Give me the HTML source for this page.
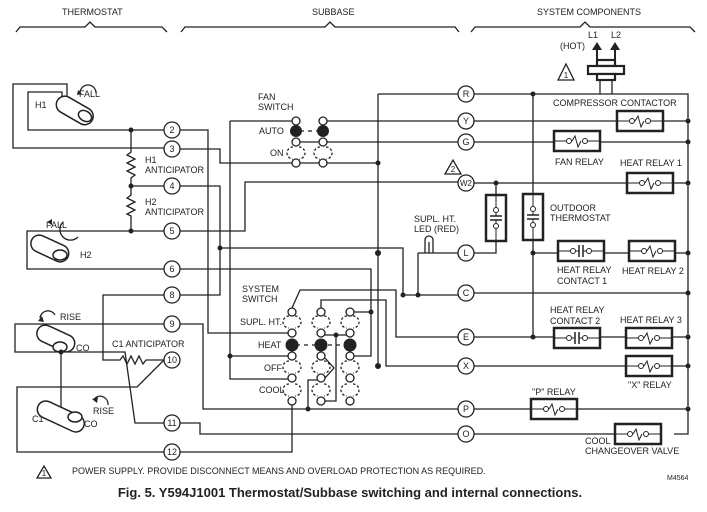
<!DOCTYPE html>
<html><head><meta charset="utf-8"><style>
html,body{margin:0;padding:0;background:#fff}
svg{display:block}
text{font-family:"Liberation Sans",Arial,sans-serif;fill:#222}
</style></head><body>
<svg width="707" height="512" viewBox="0 0 707 512" xmlns="http://www.w3.org/2000/svg">
<defs>
<g id="coil"><rect x="-23" y="-10" width="46" height="20" fill="#fff" stroke="#222" stroke-width="2.5"/><line x1="-23" y1="0" x2="-10" y2="0" stroke="#222"/><circle cx="-8" cy="0" r="2.5" fill="#fff" stroke="#222"/><polyline points="-5,0 -2,-5 1,6 4,0" fill="none" stroke="#222"/><circle cx="8" cy="0" r="2.5" fill="#fff" stroke="#222"/><line x1="11" y1="0" x2="23" y2="0" stroke="#222"/></g>
<g id="cont"><rect x="-23" y="-10" width="46" height="20" fill="#fff" stroke="#222" stroke-width="2.5"/><line x1="-23" y1="0" x2="-10" y2="0" stroke="#222"/><circle cx="-8" cy="0" r="2.5" fill="#fff" stroke="#222"/><line x1="-5" y1="0" x2="-2" y2="0" stroke="#222"/><line x1="-2" y1="-6" x2="-2" y2="6" stroke="#222" stroke-width="1.5"/><line x1="2" y1="-6" x2="2" y2="6" stroke="#222" stroke-width="1.5"/><line x1="2" y1="0" x2="5" y2="0" stroke="#222"/><circle cx="8" cy="0" r="2.5" fill="#fff" stroke="#222"/><line x1="11" y1="0" x2="23" y2="0" stroke="#222"/></g>
<g id="vcont"><rect x="-10" y="-23" width="20" height="46" fill="#fff" stroke="#222" stroke-width="2.5"/><line x1="0" y1="-23" x2="0" y2="-10" stroke="#222"/><circle cx="0" cy="-8" r="2.5" fill="#fff" stroke="#222"/><line x1="0" y1="-5" x2="0" y2="-2" stroke="#222"/><line x1="-6" y1="-2" x2="6" y2="-2" stroke="#222" stroke-width="1.5"/><line x1="-6" y1="2" x2="6" y2="2" stroke="#222" stroke-width="1.5"/><line x1="0" y1="2" x2="0" y2="5" stroke="#222"/><circle cx="0" cy="8" r="2.5" fill="#fff" stroke="#222"/><line x1="0" y1="11" x2="0" y2="23" stroke="#222"/></g>
<g id="sc"><circle r="4" fill="#fff" stroke="#222" stroke-width="1.3"/></g>
<g id="dc"><path d="M-3,-6 A6,6 0 0 0 -3,6 M3,-6 A6,6 0 0 1 3,6" fill="none" stroke="#222" stroke-width="1.3" stroke-dasharray="2.5,2"/></g>
</defs>
<g stroke="#222" stroke-width="1.3" fill="none">
<path d="M16,32 L20,27 L85,27 L90,22 L95,27 L162,27 L167,32"/>
<path d="M181,32 L185,27 L325,27 L330,22 L335,27 L455,27 L459,32"/>
<path d="M471,32 L475,27 L580,27 L585,22 L590,27 L690,27 L695,32"/>
<path d="M164,130 L28,130 L28,92 L62,92 L62,100"/>
<path d="M164,148 L13,148 L13,84 L67,84 L67,100"/>
<path d="M131,130 L131,152 l-4,3 l8,4 l-8,4 l8,4 l-8,4 l8,4 l-4,3 L131,195 l-4,3 l8,4 l-8,4 l8,4 l-8,4 l4,2 L131,231"/>
<path d="M131,186 L164,186"/>
<path d="M164,231 L27,231 L27,269 L164,269"/>
<path d="M180,130 L208,130 L208,333 L288,333"/>
<path d="M180,149 L220,149 L220,163 L378,163"/>
<path d="M180,186 L220,186 L220,295 L180,295"/>
<path d="M220,248 L403,248 L403,295 L458,295"/>
<path d="M180,231 L245,231 L245,182 L458,182"/>
<path d="M180,269 L371,269 L371,356 L354,356"/>
<path d="M164,295 L103,295 L103,360 L120,360 l3,-4 l4,8 l4,-8 l4,8 l4,-8 l4,8 l3,-4 L164,360"/>
<path d="M180,324 L203,324 L203,409 L458,409"/>
<path d="M180,423 L200,423 L200,434 L458,434"/>
<path d="M164,452 L17,452 L17,387 L137,387 L164,360"/>
<path d="M180,452 L292,452 L292,405"/>
<path d="M164,423 L135,423 L125,352 L15,352 L15,324 L164,324"/>
<path d="M61,352 L61,410"/>
<path d="M230,121 L230,379 L288,379"/>
<path d="M230,121 L292,121 M327,121 L458,121"/>
<path d="M327,142 L458,142 M300,142 L319,142"/>
<path d="M230,356 L288,356"/>
<path d="M378,94 L458,94 M474,94 L688,94 L688,434 L674,434"/>
<path d="M378,94 L378,366"/>
<path d="M533,94 L533,337"/>
<path d="M474,121 L688,121 M474,142 L688,142 M474,183 L688,183 M474,253 L496,253 L496,183"/>
<path d="M533,253 L688,253 M474,293 L688,293 M474,337 L688,337 M474,366 L688,366 M474,409 L688,409 M474,434 L614,434"/>
<path d="M600,94 L600,80 M612,94 L612,80"/>
<path d="M418,253 L458,253 M418,253 L418,295"/>
<path d="M425,253 L425,240 A4,4 0 0 1 433,240 L433,253 M429,253 L429,242"/>
<path d="M292,308 L300,290 L396,290 L396,337 L458,337"/>
<path d="M321,308 L321,300 L386,300 L386,366 L458,366"/>
<path d="M336,335 L336,401 L325,401"/>
<path d="M308,409 L308,380 L317,380"/>
<path d="M354,312 L371,312"/>
<path d="M325,358 L334,368 L325,378"/>
<path d="M296,345 L350,345" stroke-dasharray="4,4"/>
<path d="M300,131 L323,131" stroke-dasharray="4,4"/>
<path d="M325,335 L350,335"/>
</g>
<g stroke="#222" stroke-width="1.5" fill="#fff">
<rect x="55" y="102" width="40" height="17" rx="8.5" transform="rotate(30 75 110)"/>
<ellipse cx="85" cy="116" rx="7" ry="5" transform="rotate(30 85 116)"/>
<rect x="30" y="240" width="40" height="17" rx="8.5" transform="rotate(25 50 248)"/>
<ellipse cx="60" cy="255" rx="7" ry="5"/>
<rect x="36" y="330" width="40" height="17" rx="8.5" transform="rotate(25 56 338)"/>
<ellipse cx="60" cy="347" rx="7" ry="5"/>
<rect x="36" y="408" width="50" height="17" rx="8.5" transform="rotate(25 61 416)"/>
<ellipse cx="75" cy="417" rx="7" ry="5"/>
</g>
<g stroke="#222" stroke-width="1.3" fill="none">
<path d="M80,93 A8,8 0 0 1 96,93 M78,237 A8,8 0 0 1 63,222 M40,318 A8,8 0 0 1 55,315 M95,398 A8,8 0 0 1 108,405"/>
</g>
<g fill="#222"><path d="M78,90 l4,4 l-5,1z M47,222 l5,-3 l0,6z M38,321 l4,-5 l2,6z M92,399 l6,-2 l-1,6z"/></g>
<g fill="#222">
<circle cx="131" cy="130" r="2.5"/><circle cx="131" cy="186" r="2.5"/><circle cx="131" cy="231" r="2.5"/>
<circle cx="220" cy="248" r="2.5"/><circle cx="230" cy="356" r="2.5"/><circle cx="61" cy="352" r="2.5"/>
<circle cx="378" cy="163" r="2.5"/><circle cx="378" cy="253" r="3"/><circle cx="378" cy="366" r="3"/>
<circle cx="533" cy="94" r="2.5"/><circle cx="533" cy="253" r="2.5"/><circle cx="533" cy="337" r="2.5"/>
<circle cx="496" cy="183" r="2.5"/><circle cx="418" cy="295" r="2.5"/><circle cx="403" cy="295" r="2.5"/>
<circle cx="336" cy="335" r="2.5"/><circle cx="371" cy="312" r="2.5"/><circle cx="308" cy="409" r="2.5"/>
<circle cx="688" cy="121" r="2.5"/><circle cx="688" cy="142" r="2.5"/><circle cx="688" cy="183" r="2.5"/><circle cx="688" cy="253" r="2.5"/><circle cx="688" cy="293" r="2.5"/><circle cx="688" cy="337" r="2.5"/><circle cx="688" cy="366" r="2.5"/><circle cx="688" cy="409" r="2.5"/>
<circle cx="296" cy="131" r="6"/><circle cx="323" cy="131" r="6"/>
<circle cx="292" cy="345" r="6.5"/><circle cx="321" cy="345" r="6.5"/><circle cx="350" cy="345" r="6.5"/>
</g>
<use href="#sc" x="296" y="121"/><use href="#sc" x="323" y="121"/><use href="#sc" x="296" y="142"/><use href="#sc" x="323" y="142"/>
<use href="#dc" x="296" y="153"/><use href="#dc" x="323" y="153"/>
<use href="#sc" x="296" y="163"/><use href="#sc" x="323" y="163"/>
<g>
<use href="#sc" x="292" y="312"/><use href="#sc" x="321" y="312"/><use href="#sc" x="350" y="312"/>
<use href="#dc" x="292" y="322"/><use href="#dc" x="321" y="322"/><use href="#dc" x="350" y="322"/>
<use href="#sc" x="292" y="333"/><use href="#sc" x="321" y="333"/><use href="#sc" x="350" y="333"/>
<use href="#sc" x="292" y="356"/><use href="#sc" x="321" y="356"/><use href="#sc" x="350" y="356"/>
<use href="#dc" x="292" y="367"/><use href="#dc" x="321" y="367"/><use href="#dc" x="350" y="367"/>
<use href="#sc" x="292" y="378"/><use href="#sc" x="321" y="378"/><use href="#sc" x="350" y="378"/>
<use href="#dc" x="292" y="390"/><use href="#dc" x="321" y="390"/><use href="#dc" x="350" y="390"/>
<use href="#sc" x="292" y="401"/><use href="#sc" x="321" y="401"/><use href="#sc" x="350" y="401"/>
</g>
<g stroke="#222" stroke-width="1.3" fill="#fff">
<circle cx="172" cy="130" r="8"/><circle cx="172" cy="149" r="8"/><circle cx="172" cy="186" r="8"/><circle cx="172" cy="231" r="8"/><circle cx="172" cy="269" r="8"/><circle cx="172" cy="295" r="8"/><circle cx="172" cy="324" r="8"/><circle cx="172" cy="360" r="8"/><circle cx="172" cy="423" r="8"/><circle cx="172" cy="452" r="8"/>
<circle cx="466" cy="94" r="8"/><circle cx="466" cy="121" r="8"/><circle cx="466" cy="142" r="8"/><circle cx="466" cy="183" r="8"/><circle cx="466" cy="253" r="8"/><circle cx="466" cy="293" r="8"/><circle cx="466" cy="337" r="8"/><circle cx="466" cy="366" r="8"/><circle cx="466" cy="409" r="8"/><circle cx="466" cy="434" r="8"/>
</g>
<g font-size="9" text-anchor="middle">
<text x="172" y="133">2</text><text x="172" y="152">3</text><text x="172" y="189">4</text><text x="172" y="234">5</text><text x="172" y="272">6</text><text x="172" y="298">8</text><text x="172" y="327">9</text><text x="172" y="363">10</text><text x="172" y="426">11</text><text x="172" y="455">12</text>
<text x="466" y="97">R</text><text x="466" y="124">Y</text><text x="466" y="145">G</text><text x="466" y="186" font-size="8">W2</text><text x="466" y="256">L</text><text x="466" y="296">C</text><text x="466" y="340">E</text><text x="466" y="369">X</text><text x="466" y="412">P</text><text x="466" y="437">O</text>
</g>
<use href="#coil" x="640" y="121"/><use href="#coil" x="577" y="141"/><use href="#coil" x="650" y="183"/>
<use href="#cont" x="581" y="251"/><use href="#coil" x="652" y="251"/>
<use href="#cont" x="577" y="338"/><use href="#coil" x="649" y="338"/><use href="#coil" x="649" y="366"/>
<use href="#coil" x="554" y="409"/><use href="#coil" x="638" y="434"/>
<use href="#vcont" x="496" y="218"/><use href="#vcont" x="533" y="217"/>
<g stroke="#222" stroke-width="2.2" fill="#fff">
<rect x="597" y="60" width="18" height="6"/><rect x="588" y="66" width="36" height="8"/><rect x="597" y="74" width="18" height="6"/>
</g>
<g stroke="#222" stroke-width="2"><line x1="597" y1="60" x2="597" y2="48"/><line x1="615" y1="60" x2="615" y2="48"/></g>
<g fill="#222"><path d="M592,50 l5,-8 l5,8z M610,50 l5,-8 l5,8z"/></g>
<g stroke="#222" stroke-width="1.3" fill="none"><path d="M558,80 L566,64 L574,80Z M445,174 L453,160 L461,174Z M37,478 L44,466 L51,478Z"/></g>
<g font-size="9">
<text x="566" y="78" text-anchor="middle" font-size="8">1</text><text x="453" y="172" text-anchor="middle" font-size="8">2</text><text x="44" y="476" text-anchor="middle" font-size="8">1</text>
<text x="62" y="15">THERMOSTAT</text><text x="312" y="15">SUBBASE</text><text x="537" y="15">SYSTEM COMPONENTS</text>
<text x="588" y="38">L1</text><text x="611" y="38">L2</text><text x="560" y="49">(HOT)</text>
<text x="553" y="106">COMPRESSOR CONTACTOR</text>
<text x="555" y="165">FAN RELAY</text><text x="620" y="166">HEAT RELAY 1</text>
<text x="550" y="211">OUTDOOR</text><text x="550" y="221">THERMOSTAT</text>
<text x="414" y="222">SUPL. HT.</text><text x="414" y="232">LED (RED)</text>
<text x="557" y="273">HEAT RELAY</text><text x="557" y="284">CONTACT 1</text><text x="622" y="274">HEAT RELAY 2</text>
<text x="550" y="313">HEAT RELAY</text><text x="550" y="324">CONTACT 2</text><text x="620" y="323">HEAT RELAY 3</text>
<text x="628" y="388">"X" RELAY</text><text x="532" y="395">"P" RELAY</text>
<text x="585" y="444">COOL</text><text x="585" y="454">CHANGEOVER VALVE</text>
<text x="258" y="100">FAN</text><text x="258" y="110">SWITCH</text>
<text x="259" y="134">AUTO</text><text x="270" y="156">ON</text>
<text x="242" y="292">SYSTEM</text><text x="242" y="302">SWITCH</text>
<text x="240" y="325">SUPL. HT.</text><text x="258" y="348">HEAT</text><text x="264" y="371">OFF</text><text x="259" y="393">COOL</text>
<text x="35" y="108">H1</text><text x="79" y="97">FALL</text><text x="145" y="163">H1</text><text x="145" y="173">ANTICIPATOR</text>
<text x="145" y="205">H2</text><text x="145" y="215">ANTICIPATOR</text><text x="46" y="228">FALL</text><text x="80" y="258">H2</text>
<text x="60" y="320">RISE</text><text x="76" y="351">CO</text><text x="112" y="347">C1 ANTICIPATOR</text>
<text x="93" y="414">RISE</text><text x="32" y="422">C1</text><text x="84" y="427">CO</text>
<text x="72" y="474">POWER SUPPLY. PROVIDE DISCONNECT MEANS AND OVERLOAD PROTECTION AS REQUIRED.</text>
<text x="667" y="480" font-size="7">M4564</text>
</g>
<text x="350" y="497" font-size="13" font-weight="bold" text-anchor="middle">Fig. 5. Y594J1001 Thermostat/Subbase switching and internal connections.</text>
</svg>
</body></html>
